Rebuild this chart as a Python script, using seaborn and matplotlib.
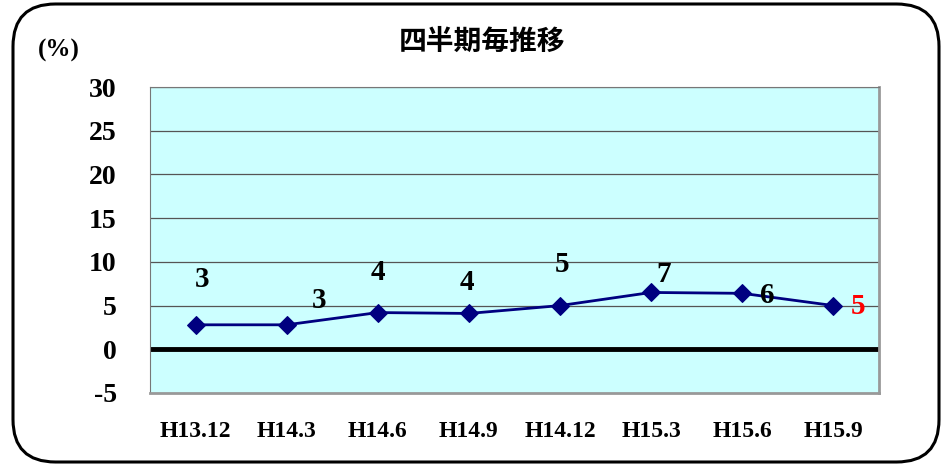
import matplotlib
matplotlib.use("Agg")
import matplotlib.pyplot as plt
from matplotlib.patches import FancyBboxPatch
import seaborn as sns
import pandas as pd

# data
periods = ["H13.12", "H14.3", "H14.6", "H14.9", "H14.12", "H15.3", "H15.6", "H15.9"]
values = [2.8, 2.8, 4.2, 4.1, 5.0, 6.5, 6.4, 5.0]
point_labels = ["3", "3", "4", "4", "5", "7", "6", "5"]
# label offsets in pixels from each point (dx, dy)
label_offsets = [(6, 45), (32, 24), (0, 40), (-2, 31), (2, 41), (13, 18), (25, -2), (25, -1)]
label_colors = ["black"] * 7 + ["red"]

df = pd.DataFrame({"period": periods, "value": values})
df["pos"] = range(len(periods))

sns.set_style("white")
plt.rcParams["font.family"] = ["Liberation Serif", "Noto Sans CJK JP", "DejaVu Sans"]
plt.rcParams["text.color"] = "black"
plt.rcParams["xtick.color"] = "black"
plt.rcParams["ytick.color"] = "black"

fig = plt.figure(figsize=(9.44, 4.66), dpi=100)

# rounded frame around the whole chart
frame = FancyBboxPatch((13 / 944, 4 / 466), 926 / 944, 458 / 466,
                       boxstyle="round,pad=0,rounding_size=0.045",
                       transform=fig.transFigure, facecolor="none",
                       edgecolor="black", linewidth=2.2, mutation_aspect=944 / 466)
fig.patches.append(frame)

ax = fig.add_axes([150 / 944, 73 / 466, 729 / 944, 306 / 466])
ax.set_facecolor("#CCFFFF")

for yv in range(5, 31, 5):
    ax.axhline(yv, color="#555555", linewidth=0.9, zorder=1)
ax.axhline(0, color="black", linewidth=3.5, zorder=2)

sns.lineplot(data=df, x="pos", y="value", ax=ax, color="#000080", linewidth=2,
             marker="D", markersize=9, markeredgecolor="#000080", zorder=3)

for i, (lab, (dx, dy), c) in enumerate(zip(point_labels, label_offsets, label_colors)):
    ax.annotate(lab, (i, values[i]), xytext=(dx, dy), textcoords="offset pixels",
                ha="center", va="center", fontsize=21, fontweight="bold", color=c,
                family="Liberation Serif")

ax.set_xlim(-0.5, len(periods) - 0.5)
ax.set_ylim(-5, 30)
ax.set_yticks(range(-5, 31, 5))
ax.set_yticklabels([str(v) for v in range(-5, 31, 5)], fontsize=20, fontweight="bold")
ax.set_xticks(range(len(periods)))
ax.set_xticklabels(periods, fontsize=17, fontweight="bold")
ax.tick_params(axis="x", length=0, pad=20)
ax.tick_params(axis="y", direction="in", length=5, pad=24, color="black")
ax.set_xlabel("")
ax.set_ylabel("")

for s in ["left", "top"]:
    ax.spines[s].set_color("#777777")
for s in ["right", "bottom"]:
    ax.spines[s].set_color("#999999")
    ax.spines[s].set_linewidth(2)

fig.text(482 / 944, 1 - 42 / 466, "四半期毎推移", ha="center", va="center",
         fontsize=20, fontweight="bold", family=["Noto Sans CJK JP", "DejaVu Sans"])
fig.text(59 / 944, 1 - 50 / 466, "(%)", ha="center", va="center",
         fontsize=18, fontweight="bold", family="Liberation Serif")

fig.savefig("out.png", dpi=100)
